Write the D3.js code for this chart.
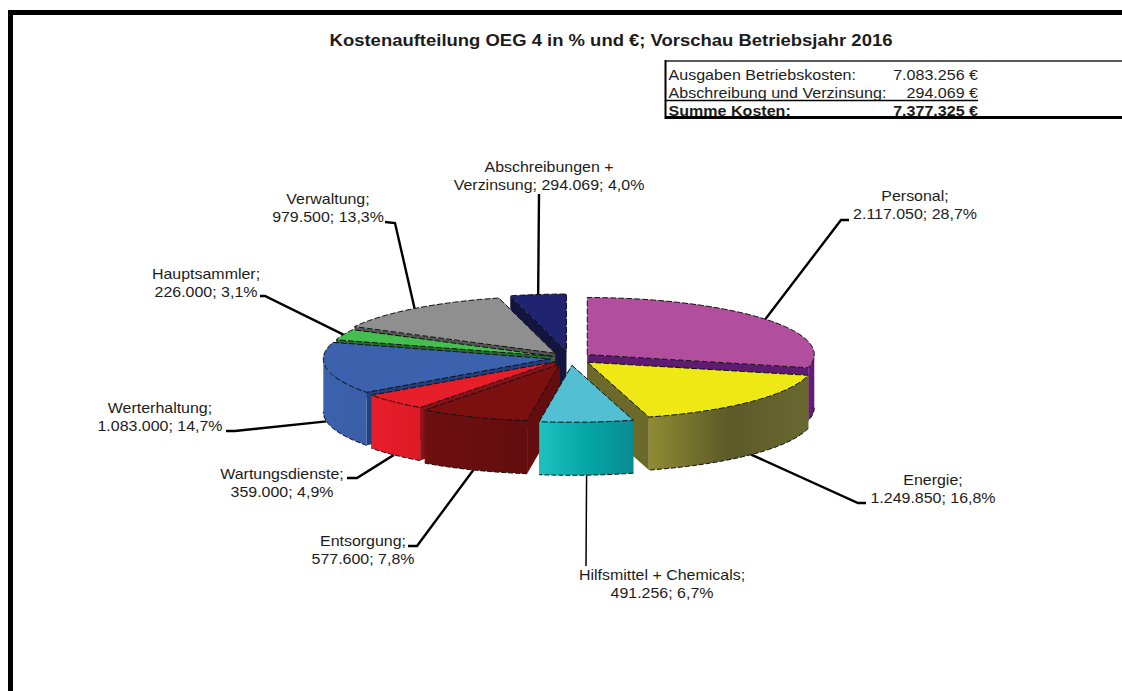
<!DOCTYPE html>
<html>
<head>
<meta charset="utf-8">
<script src="https://cdn.jsdelivr.net/npm/d3@7"></script>
<style>
    html, body { margin: 0; padding: 0; background: #fff; overflow: hidden; }
    text { font-family: "Liberation Sans", Arial, sans-serif; fill: #1c1c1c; }
</style>
</head>
<body>
<svg id="chart" width="1122" height="691"></svg>
<script>
// clockwise from 12 o'clock
var names = [
    ["Personal;"], ["Energie;"], ["Hilfsmittel + Chemicals;"], ["Entsorgung;"],
    ["Wartungsdienste;"], ["Werterhaltung;"], ["Hauptsammler;"], ["Verwaltung;"],
    ["Abschreibungen +", "Verzinsung;"]
];
var costs = [2117050, 1249850, 491256, 577600, 359000, 1083000, 226000, 979500, 294069];
var percents = ["28,7%", "16,8%", "6,7%", "7,8%", "4,9%", "14,7%", "3,1%", "13,3%", "4,0%"];
var explode = [0.097, 0.106, 0.128, 0.119, 0.093, 0.088, 0.079, 0.106, 0.123];

var topColors = ["#b14e9d", "#eee814", "#52bfd2", "#7c1011", "#e81e2a", "#3d62ad", "#45bd4f", "#8f8f8f", "#1f2370"];
var wallColors = [
    ["#6a1f7c", "#5f1a72"], ["#8f8c35", "#5c5a28", "#6a6830"], ["#1fc0c0", "#04a6a6", "#0b8b92"],
    ["#6e0f10", "#640d0e"], ["#e81e2a", "#dc1b26"], ["#3d62ad", "#3a5ea8"],
    ["#2f8f38", "#2f8f38"], ["#6e6e6e", "#6e6e6e"], ["#15173f", "#15173f"]
];
var sideColors = ["#5f1a72", "#6b6a2a", "#067c80", "#640d0e", "#8a1218", "#223f80", "#256e2c", "#555555", "#14153f"];

var summaryLabels = ["Ausgaben Betriebskosten:", "Abschreibung und Verzinsung:", "Summe Kosten:"];
var summaryValues = ["7.083.256 €", "294.069 €", "7.377.325 €"];

var title = "Kostenaufteilung OEG 4 in % und €; Vorschau Betriebsjahr 2016";

var cx = 570, cy = 358, rx = 227, ry = 57, depth = 53;

// label centre + baseline of the last line, and the elbow of each leader
var labelPos = [[915, 219], [933, 503], [662, 598], [363, 564], [282, 497], [160, 431], [206, 297], [328, 222], [549, 190]];
var elbows = [
    [[841, 220], [849, 220]], [[858, 503], [866, 503]], [[586, 566]], [[417, 546], [408, 546]],
    [[357, 478], [347, 478]], [[235, 431], [226, 431]], [[265, 296], [260, 296]], [[395, 223], [385, 222]], [[539, 194]]
];
// back to front
var drawOrder = [8, 7, 6, 0, 5, 4, 1, 3, 2];

var svg = d3.select("#chart");
var defs = svg.append("defs");

var xScale = d3.scaleLinear().domain([-1, 1]).range([cx - rx, cx + rx]);
var yScale = d3.scaleLinear().domain([-1, 1]).range([cy - ry, cy + ry]);
var thousands = d3.formatLocale({ decimal: ",", thousands: ".", grouping: [3], currency: ["", " €"] }).format(",d");

var arcs = d3.pie().sort(null).startAngle(0).endAngle(2 * Math.PI)(costs);

var slices = arcs.map(function (a, i) {
    return {
        i: i,
        a0: a.startAngle,
        a1: a.endAngle,
        mid: (a.startAngle + a.endAngle) / 2,
        ex: explode[i]
    };
});

function pt(s, angle, r, low) {
    var px = xScale(r * Math.sin(angle) + s.ex * Math.sin(s.mid));
    var py = yScale(-r * Math.cos(angle) - s.ex * Math.cos(s.mid));
    return [px, low ? py + depth : py];
}

function angles(a0, a1) {
    var n = Math.max(2, Math.ceil((a1 - a0) / 0.03));
    return d3.range(n + 1).map(function (k) { return a0 + (a1 - a0) * k / n; });
}

var line = d3.line();

function topPath(s) {
    var rim = angles(s.a0, s.a1).map(function (a) { return pt(s, a, 1, false); });
    return line([pt(s, 0, 0, false)].concat(rim)) + "Z";
}

function sidePath(s, angle) {
    return line([pt(s, 0, 0, false), pt(s, angle, 1, false), pt(s, angle, 1, true), pt(s, 0, 0, true)]) + "Z";
}

// only the part of the rim that faces the viewer gets a wall
function wallRange(s) {
    var a0 = Math.max(s.a0, Math.PI / 2), a1 = Math.min(s.a1, 3 * Math.PI / 2);
    return a0 < a1 ? [a0, a1] : null;
}

function wallPath(s) {
    var r = wallRange(s);
    var as = angles(r[0], r[1]);
    var upper = as.map(function (a) { return pt(s, a, 1, false); });
    var lower = as.slice().reverse().map(function (a) { return pt(s, a, 1, true); });
    return line(upper.concat(lower)) + "Z";
}

function rimPath(s, low) {
    var r = wallRange(s);
    return line(angles(r[0], r[1]).map(function (a) { return pt(s, a, 1, low); }));
}

// the original picture is stretched sideways, so the text is too
function wideText(parent, x, y, str, size, stretch, anchor, bold) {
    return parent.append("text")
        .attr("transform", "translate(" + x + "," + y + ") scale(" + stretch + ",1)")
        .attr("text-anchor", anchor)
        .attr("font-size", size + "px")
        .attr("font-weight", bold ? "bold" : "normal")
        .text(str);
}

// wall shading
wallColors.forEach(function (cols, i) {
    var g = defs.append("linearGradient").attr("id", "wall" + i)
        .attr("x1", 0).attr("x2", 1).attr("y1", 0).attr("y2", 0);
    cols.forEach(function (c, k) {
        g.append("stop").attr("offset", k / (cols.length - 1)).attr("stop-color", c);
    });
});

// frame, only top and left are inside the picture
svg.append("rect")
    .attr("x", 10.5).attr("y", 12.5)
    .attr("width", 1200).attr("height", 800)
    .attr("fill", "none").attr("stroke", "#000").attr("stroke-width", 5);

wideText(svg, 611, 46, title, 16.5, 1.12, "middle", true);

// summary box, last row is cut by the bottom line as in the original
var clip = defs.append("clipPath").attr("id", "boxClip");
clip.append("rect").attr("x", 660).attr("y", 60).attr("width", 470).attr("height", 57);

var box = svg.append("g").attr("clip-path", "url(#boxClip)");
summaryLabels.forEach(function (d, i) {
    wideText(box, 668.5, 80 + i * 18, d, 14, 1.148, "start", i == 2);
    wideText(box, 978, 80 + i * 18, summaryValues[i], 14, 1.148, "end", i == 2);
});

svg.append("line").attr("x1", 666).attr("x2", 978).attr("y1", 100.5).attr("y2", 100.5)
    .attr("stroke", "#000").attr("stroke-width", 1.5);
svg.append("line").attr("x1", 665).attr("x2", 1122).attr("y1", 61).attr("y2", 61)
    .attr("stroke", "#222").attr("stroke-width", 1.5);
svg.append("line").attr("x1", 665).attr("x2", 1122).attr("y1", 117.5).attr("y2", 117.5)
    .attr("stroke", "#000").attr("stroke-width", 3);
svg.append("line").attr("x1", 665.5).attr("x2", 665.5).attr("y1", 60).attr("y2", 119)
    .attr("stroke", "#000").attr("stroke-width", 2);

// leaders sit under the pie
var leaderData = slices.map(function (s) {
    var front = Math.cos(s.mid) < 0;
    return [pt(s, s.mid, 1, front)].concat(elbows[s.i]);
});
svg.selectAll("path.leader").data(leaderData).enter().append("path")
    .attr("class", "leader")
    .attr("d", function (d) { return line(d); })
    .attr("fill", "none").attr("stroke", "#000")
    .attr("stroke-width", function (d, i) { return i == 2 ? 1.5 : 2.4; });

var pie = svg.selectAll("g.slice")
    .data(drawOrder.map(function (i) { return slices[i]; }))
    .enter().append("g").attr("class", "slice");

pie.append("path")
    .attr("d", function (s) { return sidePath(s, s.a0); })
    .attr("fill", function (s) { return sideColors[s.i]; });
pie.append("path")
    .attr("d", function (s) { return sidePath(s, s.a1); })
    .attr("fill", function (s) { return sideColors[s.i]; });

var walled = pie.filter(function (s) { return wallRange(s) !== null; });
walled.append("path")
    .attr("d", wallPath)
    .attr("fill", function (s) { return "url(#wall" + s.i + ")"; });
walled.append("path")
    .attr("d", function (s) { return rimPath(s, true); })
    .attr("fill", "none").attr("stroke", "#111").attr("stroke-width", 1).attr("stroke-dasharray", "5,2");

pie.append("path")
    .attr("d", topPath)
    .attr("fill", function (s) { return topColors[s.i]; })
    .attr("stroke", "#111").attr("stroke-width", 1).attr("stroke-dasharray", "6,2");

var labelGroup = svg.append("g");
slices.forEach(function (s) {
    var lines = names[s.i].slice();
    var tail = thousands(costs[s.i]) + "; " + percents[s.i];
    // the two line name keeps the numbers on its second line
    if (lines.length > 1) lines[1] += " " + tail; else lines.push(tail);
    lines.forEach(function (d, k) {
        wideText(labelGroup, labelPos[s.i][0], labelPos[s.i][1] - (lines.length - 1 - k) * 18, d, 14, 1.14, "middle", false);
    });
});
</script>
</body>
</html>
